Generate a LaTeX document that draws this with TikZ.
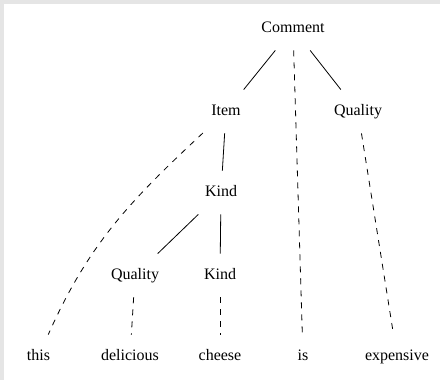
\documentclass[tikz,border=0pt]{standalone}
\usepackage{fontspec}
\setmainfont{Liberation Serif}
\begin{document}
\begin{tikzpicture}[x=1pt,y=-1pt,line width=0.8pt,every node/.style={font=\fontsize{16}{19}\selectfont,text height=11pt,text depth=4pt,inner xsep=8pt,inner ysep=14pt,anchor=base},dep/.style={dash pattern=on 6pt off 6pt}]
\useasboundingbox (0,0) rectangle (440,380);
\fill[gray!20] (0,0) rectangle (440,380);
\fill[white] (4,4) rectangle (440,380);
\node (comment) at (293,32) {Comment};
\node (item) at (226,115) {Item};
\node (quality) at (358,115) {Quality};
\node (kind) at (221,196) {Kind};
\node (quality2) at (135,279) {Quality};
\node (kind2) at (220,279) {Kind};
\node (this) at (38.5,360) {this};
\node (delicious) at (130,360) {delicious};
\node (cheese) at (220,360) {cheese};
\node (is) at (303,360) {is};
\node (expensive) at (397,360) {expensive};
\draw (comment) -- (item);
\draw (comment) -- (quality);
\draw[dep] (comment) -- (is);
\draw (item) -- (kind);
\draw[dep] (item) to[out=223,in=66] (this);
\draw[dep] (quality) -- (expensive);
\draw (kind) -- (quality2);
\draw (kind) -- (kind2);
\draw[dep] (quality2) -- (delicious);
\draw[dep] (kind2) -- (cheese);
\end{tikzpicture}
\end{document}
